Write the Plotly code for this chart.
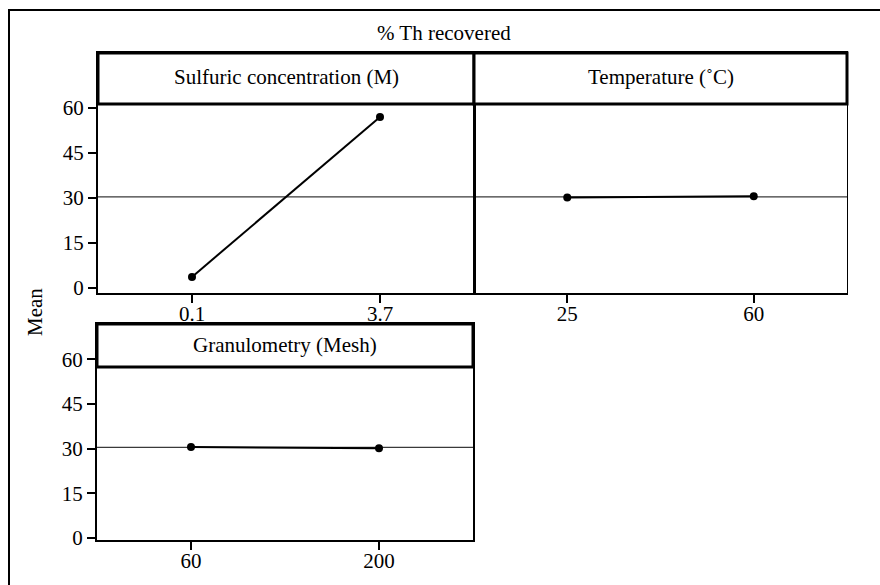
import plotly.graph_objects as go

W, H = 880, 585

# ---- data ----
SULF_LEVELS = ["0.1", "3.7"]
SULF_MEANS = [3.7, 57.0]
TEMP_LEVELS = ["25", "60"]
TEMP_MEANS = [30.2, 30.6]
GRAN_LEVELS = ["60", "200"]
GRAN_MEANS = [30.5, 30.1]
GRAND_MEAN = 30.4
Y_TICKS = [0, 15, 30, 45, 60]
PANEL_TITLES = ["Sulfuric concentration (M)", "Temperature (˚C)", "Granulometry (Mesh)"]
MAIN_TITLE = "% Th recovered"
Y_TITLE = "Mean"

FONT = "Liberation Serif"
FS = 21

def px(x):
    return x / W

def py(y):
    return 1 - y / H

fig = go.Figure()

panels = [
    ("x", "y", SULF_LEVELS, SULF_MEANS),
    ("x2", "y2", TEMP_LEVELS, TEMP_MEANS),
    ("x3", "y3", GRAN_LEVELS, GRAN_MEANS),
]
for xa, ya, lev, vals in panels:
    fig.add_trace(go.Scatter(
        x=list(range(1, len(lev) + 1)), y=vals, xaxis=xa, yaxis=ya,
        mode="lines+markers",
        line=dict(color="black", width=2),
        marker=dict(color="black", size=8, symbol="circle"),
        showlegend=False, hoverinfo="skip",
    ))

axis_common = dict(showline=True, mirror=True, linecolor="black", linewidth=2,
                   showgrid=False, zeroline=False, ticks="outside", ticklen=8,
                   tickwidth=1.5, tickcolor="black",
                   tickfont=dict(family=FONT, size=FS, color="black"))
xaxis_extra = dict(ticklabelstandoff=-7)

# panel geometry (pixels)
top_y0, top_y1 = 53, 293          # plot frame (includes strip area)
bot_y0, bot_y1 = 324, 540
p1 = (98, 474)
p2 = (474, 847)
p3 = (97, 473)

# y ranges: top panels 0 at 288px, 3 px/unit ; bottom 0 at 538px, 2.98 px/unit
top_range = [-(top_y1 - 288) / 3.0, (288 - top_y0) / 3.0]
bot_range = [-(bot_y1 - 538) / 2.98, (538 - bot_y0) / 2.98]

fig.update_layout(
    xaxis=dict(domain=[px(p1[0]), px(p1[1])], range=[0.5, 2.5], tickvals=[1, 2],
               ticktext=SULF_LEVELS, anchor="y", **axis_common, **xaxis_extra),
    yaxis=dict(domain=[py(top_y1), py(top_y0)], range=top_range, tickvals=Y_TICKS,
               anchor="x", **axis_common),
    xaxis2=dict(domain=[px(p2[0]), px(p2[1])], range=[0.5, 2.5], tickvals=[1, 2],
                ticktext=TEMP_LEVELS, anchor="y2", **axis_common, **xaxis_extra),
    yaxis2=dict(domain=[py(top_y1), py(top_y0)], range=top_range, tickvals=Y_TICKS,
                anchor="x2", **{**axis_common, "ticks": "", "showticklabels": False,
                                "linewidth": 1}),
    xaxis3=dict(domain=[px(p3[0]), px(p3[1])], range=[0.5, 2.5], tickvals=[1, 2],
                ticktext=GRAN_LEVELS, anchor="y3", **axis_common, **xaxis_extra),
    yaxis3=dict(domain=[py(bot_y1), py(bot_y0)], range=bot_range, tickvals=Y_TICKS,
                anchor="x3", **axis_common),
    width=W, height=H,
    margin=dict(l=0, r=0, t=0, b=0, autoexpand=False),
    paper_bgcolor="white", plot_bgcolor="white",
    showlegend=False,
)

shapes = []
# grand mean reference lines
for xa, ya in [("x", "y"), ("x2", "y2"), ("x3", "y3")]:
    shapes.append(dict(type="line", xref=f"{xa} domain", yref=ya, x0=0, x1=1,
                       y0=GRAND_MEAN, y1=GRAND_MEAN, layer="below",
                       line=dict(color="#3a3a3a", width=1.2)))

# strips
strips = [
    (p1, (53, 104), PANEL_TITLES[0]),
    (p2, (53, 104), PANEL_TITLES[1]),
    (p3, (324, 367), PANEL_TITLES[2]),
]
annotations = []
for (x0, x1), (y0, y1), txt in strips:
    shapes.append(dict(type="rect", xref="paper", yref="paper",
                       x0=px(x0), x1=px(x1), y0=py(y1), y1=py(y0),
                       fillcolor="white", line=dict(color="black", width=3), layer="above"))
    annotations.append(dict(text=txt, xref="paper", yref="paper",
                            x=px((x0 + x1) / 2), y=py((y0 + y1) / 2 - 1),
                            showarrow=False, xanchor="center", yanchor="middle",
                            font=dict(family=FONT, size=FS, color="black")))

# outer frame
shapes.append(dict(type="rect", xref="paper", yref="paper",
                   x0=px(9), x1=px(W + 20), y0=py(H + 20), y1=py(10),
                   line=dict(color="black", width=2), fillcolor="rgba(0,0,0,0)"))

annotations.append(dict(text=MAIN_TITLE, xref="paper", yref="paper",
                        x=px(444), y=py(33), showarrow=False,
                        xanchor="center", yanchor="middle",
                        font=dict(family=FONT, size=FS, color="black")))
annotations.append(dict(text=Y_TITLE, xref="paper", yref="paper",
                        x=px(35), y=py(312), showarrow=False, textangle=-90,
                        xanchor="center", yanchor="middle",
                        font=dict(family=FONT, size=FS, color="black")))

fig.update_layout(shapes=shapes, annotations=annotations)

fig.write_html("out.html",
               config={"displayModeBar": False},
               post_script="document.body.style.margin='0';document.body.style.overflow='hidden';")
